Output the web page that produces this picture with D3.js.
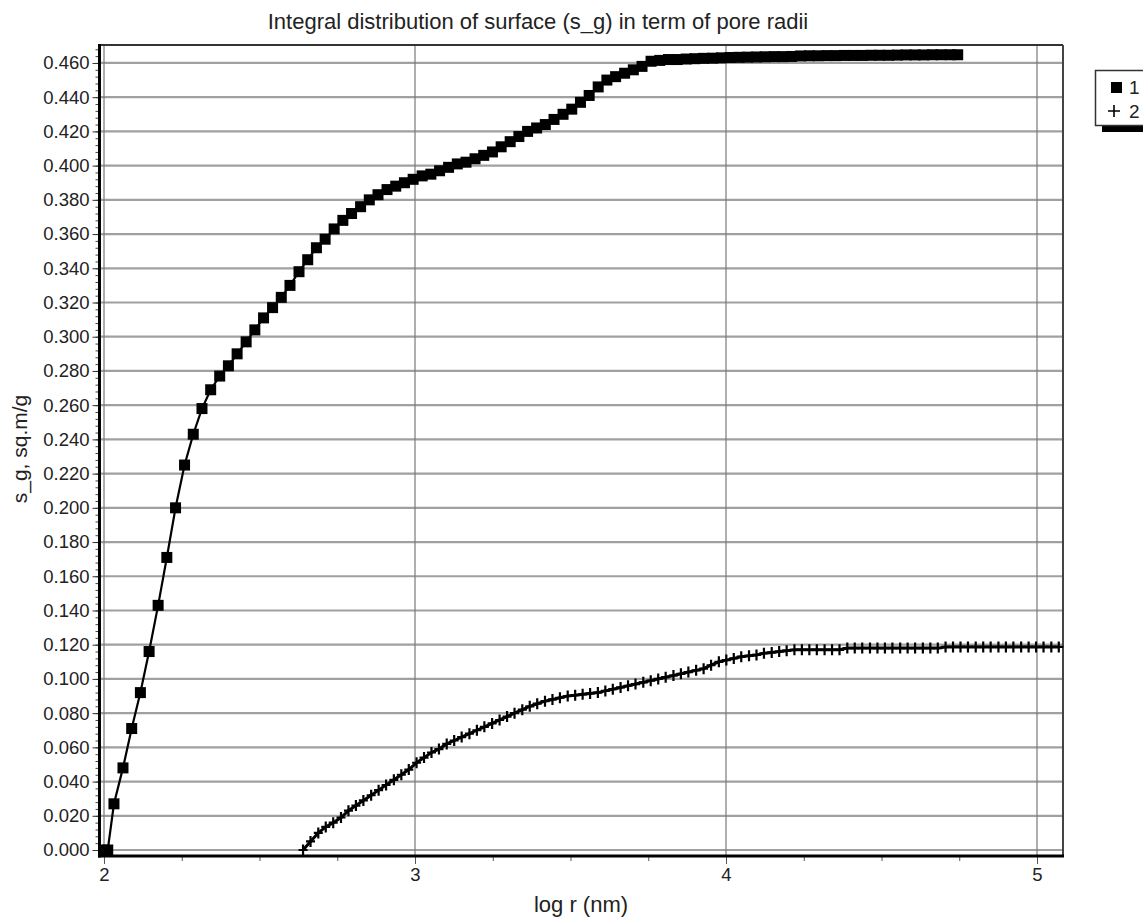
<!DOCTYPE html>
<html>
<head>
<meta charset="utf-8">
<script src="https://cdn.jsdelivr.net/npm/d3@7"></script>
<style>
  body { margin: 0; background: #fff; }
  svg { display: block; }
  text { font-family: "Liberation Sans", Arial, sans-serif; fill: #222; }
</style>
</head>
<body>
<svg id="chart" width="1143" height="918"></svg>
<script>
// ---- data ----
const chartTitle = "Integral distribution of surface (s_g) in term of pore radii";
const xAxisLabel = "log r (nm)";
const yAxisLabel = "s_g, sq.m/g";
const seriesNames = ["1", "2"];

const xTicks = [2, 3, 4, 5];
const yTicks = [0, 0.02, 0.04, 0.06, 0.08, 0.10, 0.12, 0.14, 0.16, 0.18, 0.20, 0.22,
                0.24, 0.26, 0.28, 0.30, 0.32, 0.34, 0.36, 0.38, 0.40, 0.42, 0.44, 0.46];

// series 1: log r and s_g
const series1X = [2.000, 2.012, 2.032, 2.061, 2.089, 2.117, 2.145, 2.174, 2.202, 2.230,
  2.259, 2.287, 2.315, 2.343, 2.372, 2.400, 2.428, 2.457, 2.485, 2.513,
  2.542, 2.570, 2.598, 2.627, 2.655, 2.683, 2.711, 2.740, 2.768, 2.796,
  2.825, 2.853, 2.881, 2.910, 2.938, 2.966, 2.994, 3.023, 3.051, 3.079,
  3.108, 3.136, 3.164, 3.193, 3.221, 3.249, 3.277, 3.306, 3.334, 3.362,
  3.391, 3.419, 3.447, 3.476, 3.504, 3.532, 3.560, 3.589, 3.617, 3.645,
  3.674, 3.702, 3.730, 3.759, 3.787, 3.815, 3.843, 3.872, 3.900, 3.928,
  3.957, 3.985, 4.013, 4.042, 4.070, 4.098, 4.126, 4.155, 4.183, 4.211,
  4.240, 4.268, 4.296, 4.325, 4.353, 4.381, 4.409, 4.438, 4.466, 4.494,
  4.523, 4.551, 4.579, 4.608, 4.636, 4.664, 4.692, 4.721, 4.745];
const series1Y = [0.000, 0.000, 0.027, 0.048, 0.071, 0.092, 0.116, 0.143, 0.171, 0.200,
  0.225, 0.243, 0.258, 0.269, 0.277, 0.283, 0.290, 0.297, 0.304, 0.311,
  0.317, 0.323, 0.330, 0.338, 0.345, 0.352, 0.357, 0.363, 0.368, 0.372,
  0.376, 0.380, 0.383, 0.386, 0.388, 0.390, 0.392, 0.394, 0.395, 0.397,
  0.399, 0.401, 0.402, 0.404, 0.406, 0.408, 0.411, 0.414, 0.417, 0.420,
  0.422, 0.424, 0.427, 0.430, 0.433, 0.437, 0.441, 0.446, 0.450, 0.452,
  0.454, 0.456, 0.458, 0.461, 0.4615, 0.462, 0.462, 0.4623, 0.4625, 0.4627,
  0.4628, 0.4630, 0.4632, 0.4633, 0.4634, 0.4635, 0.4636, 0.4637, 0.4637, 0.4638,
  0.4641, 0.4642, 0.4642, 0.4643, 0.4643, 0.4644, 0.4644, 0.4644, 0.4645, 0.4645,
  0.4645, 0.4646, 0.4647, 0.4647, 0.4647, 0.4648, 0.4648, 0.4648, 0.4648];

// series 2: log r and s_g
const series2X = [2.640, 2.664, 2.689, 2.713, 2.737, 2.762, 2.786, 2.810, 2.834, 2.859,
  2.883, 2.907, 2.932, 2.956, 2.980, 3.005, 3.029, 3.053, 3.077, 3.102,
  3.126, 3.150, 3.175, 3.199, 3.223, 3.248, 3.272, 3.296, 3.320, 3.345,
  3.369, 3.393, 3.418, 3.442, 3.466, 3.491, 3.515, 3.539, 3.563, 3.588,
  3.612, 3.636, 3.661, 3.685, 3.709, 3.734, 3.758, 3.782, 3.806, 3.831,
  3.855, 3.879, 3.904, 3.928, 3.952, 3.977, 4.001, 4.025, 4.049, 4.074,
  4.098, 4.122, 4.147, 4.171, 4.195, 4.220, 4.244, 4.268, 4.292, 4.317,
  4.341, 4.365, 4.390, 4.414, 4.438, 4.463, 4.487, 4.511, 4.535, 4.560,
  4.584, 4.608, 4.633, 4.657, 4.681, 4.706, 4.730, 4.754, 4.778, 4.803,
  4.827, 4.851, 4.876, 4.900, 4.924, 4.949, 4.973, 4.997, 5.021, 5.046,
  5.070];
const series2Y = [0.000, 0.005, 0.010, 0.0135, 0.016, 0.019, 0.023, 0.026, 0.029, 0.032,
  0.035, 0.038, 0.041, 0.044, 0.047, 0.051, 0.054, 0.057, 0.059, 0.062,
  0.064, 0.066, 0.068, 0.070, 0.072, 0.074, 0.076, 0.078, 0.080, 0.082,
  0.084, 0.0855, 0.087, 0.088, 0.089, 0.090, 0.0905, 0.091, 0.0915, 0.092,
  0.093, 0.094, 0.095, 0.096, 0.097, 0.098, 0.099, 0.100, 0.101, 0.102,
  0.103, 0.104, 0.105, 0.106, 0.108, 0.110, 0.111, 0.112, 0.113, 0.1135,
  0.114, 0.115, 0.1155, 0.116, 0.1165, 0.117, 0.117, 0.117, 0.117, 0.117,
  0.117, 0.117, 0.118, 0.118, 0.118, 0.118, 0.118, 0.118, 0.118, 0.118,
  0.118, 0.118, 0.118, 0.118, 0.118, 0.1187, 0.1187, 0.1187, 0.1187, 0.1187,
  0.1187, 0.1187, 0.1187, 0.1187, 0.1187, 0.1187, 0.1187, 0.1187, 0.1187, 0.1187,
  0.1187];

// ---- layout ----
const plot = { left: 99.5, right: 1063, top: 45, bottom: 856 };

const x = d3.scaleLinear().domain([1.9855, 5.0836]).range([plot.left, plot.right]);
const y = d3.scaleLinear().domain([-0.0035, 0.4705]).range([plot.bottom, plot.top]);

const svg = d3.select("#chart");

const s1 = series1X.map((v, i) => ({ x: v, y: series1Y[i] }));
const s2 = series2X.map((v, i) => ({ x: v, y: series2Y[i] }));

// ---- grid ----
const grid = svg.append("g");
grid.selectAll("line.h").data(yTicks).join("line")
  .attr("x1", plot.left).attr("x2", plot.right)
  .attr("y1", d => y(d)).attr("y2", d => y(d))
  .attr("stroke", "#a0a0a0").attr("stroke-width", 2.2);
grid.selectAll("line.v").data(xTicks).join("line")
  .attr("x1", d => x(d)).attr("x2", d => x(d))
  .attr("y1", plot.top).attr("y2", plot.bottom)
  .attr("stroke", "#7a7a7a").attr("stroke-width", 1.2);

// frame (top and right)
svg.append("line").attr("x1", plot.left).attr("x2", plot.right)
  .attr("y1", plot.top).attr("y2", plot.top)
  .attr("stroke", "#333").attr("stroke-width", 2);
svg.append("line").attr("x1", plot.right).attr("x2", plot.right)
  .attr("y1", plot.top).attr("y2", plot.bottom)
  .attr("stroke", "#444").attr("stroke-width", 2);

// ---- series ----
const line = d3.line().x(d => x(d.x)).y(d => y(d.y));

svg.append("path").datum(s1).attr("d", line)
  .attr("fill", "none").attr("stroke", "#000").attr("stroke-width", 2.2);
svg.append("g").selectAll("rect").data(s1).join("rect")
  .attr("x", d => x(d.x) - 5.5).attr("y", d => y(d.y) - 5.5)
  .attr("width", 11).attr("height", 11).attr("fill", "#000");

svg.append("path").datum(s2).attr("d", line)
  .attr("fill", "none").attr("stroke", "#000").attr("stroke-width", 3);
svg.append("g").selectAll("path").data(s2).join("path")
  .attr("transform", d => `translate(${x(d.x)},${y(d.y)})`)
  .attr("d", "M-4.5,0H4.5M0,-5.5V5.5")
  .attr("stroke", "#000").attr("stroke-width", 2.2).attr("fill", "none");

// ---- axes ----
const yMinor = d3.range(0, 0.4701, 0.004);
const xMinor = d3.range(2, 5.0801, 0.25);

const yAxisMinor = d3.axisLeft(y).tickValues(yMinor).tickSize(4).tickFormat("");
svg.append("g").attr("transform", `translate(${plot.left},0)`).call(yAxisMinor)
  .call(g => g.select(".domain").remove())
  .call(g => g.selectAll(".tick line").attr("stroke", "#444"));

const yAxis = d3.axisLeft(y).tickValues(yTicks).tickSize(7).tickPadding(3)
  .tickFormat(d3.format(".3f"));
svg.append("g").attr("transform", `translate(${plot.left},0)`).call(yAxis)
  .call(g => g.select(".domain").remove())
  .call(g => g.selectAll(".tick line").attr("stroke", "#333"))
  .call(g => g.selectAll(".tick text").attr("font-size", 18.5)
    .attr("font-family", '"Liberation Sans", Arial, sans-serif').attr("fill", "#222"));

const xAxisMinor = d3.axisBottom(x).tickValues(xMinor).tickSize(5).tickFormat("");
svg.append("g").attr("transform", `translate(0,${plot.bottom})`).call(xAxisMinor)
  .call(g => g.select(".domain").remove())
  .call(g => g.selectAll(".tick line").attr("stroke", "#555"));

const xAxis = d3.axisBottom(x).tickValues(xTicks).tickSize(8).tickPadding(4)
  .tickFormat(d3.format("d"));
svg.append("g").attr("transform", `translate(0,${plot.bottom})`).call(xAxis)
  .call(g => g.select(".domain").remove())
  .call(g => g.selectAll(".tick line").attr("stroke", "#555"))
  .call(g => g.selectAll(".tick text").attr("font-size", 18.5)
    .attr("font-family", '"Liberation Sans", Arial, sans-serif').attr("fill", "#222"));

// heavy axis lines
svg.append("line").attr("x1", plot.left).attr("x2", plot.left)
  .attr("y1", plot.top - 1).attr("y2", plot.bottom + 1.5)
  .attr("stroke", "#000").attr("stroke-width", 3);
svg.append("line").attr("x1", plot.left - 1.5).attr("x2", plot.right + 1)
  .attr("y1", plot.bottom).attr("y2", plot.bottom)
  .attr("stroke", "#000").attr("stroke-width", 3);

// ---- titles ----
svg.append("text").attr("x", 538).attr("y", 29)
  .attr("text-anchor", "middle").attr("font-size", 22).text(chartTitle);
svg.append("text").attr("x", 581).attr("y", 912)
  .attr("text-anchor", "middle").attr("font-size", 22).text(xAxisLabel);
svg.append("text").attr("transform", "translate(27,449) rotate(-90)")
  .attr("text-anchor", "middle").attr("font-size", 21).text(yAxisLabel);

// ---- legend ----
const legend = svg.append("g");
legend.append("rect").attr("x", 1102).attr("y", 77).attr("width", 60).attr("height", 55)
  .attr("fill", "#000");
legend.append("rect").attr("x", 1095.5).attr("y", 70.5).attr("width", 60).attr("height", 55)
  .attr("fill", "#fff").attr("stroke", "#333").attr("stroke-width", 1.5);
legend.append("rect").attr("x", 1111).attr("y", 82).attr("width", 11).attr("height", 11)
  .attr("fill", "#000");
legend.append("path").attr("d", "M1108,111H1120M1114,105V117")
  .attr("stroke", "#000").attr("stroke-width", 1.6);
legend.selectAll("text.name").data(seriesNames).join("text")
  .attr("x", 1129).attr("y", (d, i) => 94 + i * 24)
  .attr("font-size", 19).text(d => d);
</script>
</body>
</html>
